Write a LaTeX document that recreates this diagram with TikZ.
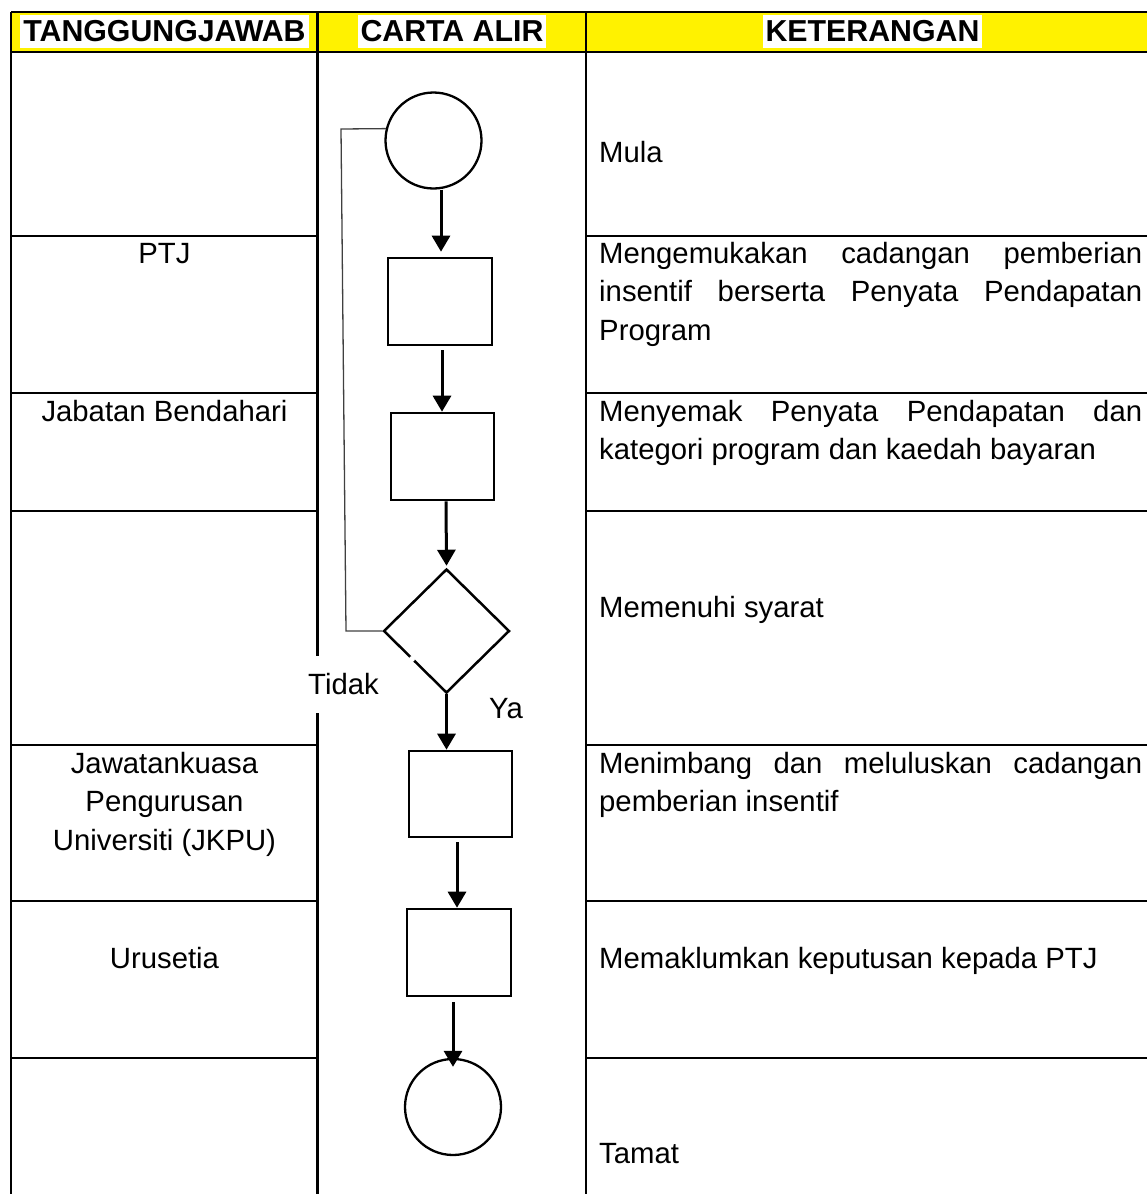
\documentclass[tikz,border=0pt]{standalone}
\usepackage{fontspec}
\setmainfont{Liberation Sans}
\usetikzlibrary{shapes.geometric,arrows.meta}
\begin{document}
\begin{tikzpicture}[x=1pt,y=-1pt,
  every node/.style={font=\fontsize{29.3}{38.5}\selectfont, inner sep=0pt},
  tline/.style={line width=2.4pt, black},
  box/.style={draw, line width=2.6pt, minimum width=104pt, minimum height=87pt, inner sep=0pt},
  term/.style={draw, circle, line width=2.3pt, minimum size=96pt, inner sep=0pt},
  dec/.style={draw, diamond, line width=2.5pt, minimum width=126pt, minimum height=124pt, inner sep=0pt},
  arr/.style={line width=3pt, -{Triangle[width=18pt,length=16pt]}},
  fb/.style={line width=1.3pt, black!75},
  lbl/.style={anchor=base, inner sep=0pt},
  rtxt/.style={anchor=base west, inner sep=0pt},
  hdr/.style={anchor=base, fill=white, inner xsep=3pt, inner ysep=0pt, text height=26pt, text depth=7pt, font=\fontsize{30.3}{38.5}\selectfont\bfseries}
]
\useasboundingbox (0,0) rectangle (1147,1194);

% header shading
\fill[yellow] (11,12) rectangle (1147,52);

% table lines
\draw[tline] (11,12) -- (1147,12);
\draw[tline] (11,52) -- (1147,52);
\draw[tline] (11,12) -- (11,1194);
\draw[tline] (317.5,12) -- (317.5,1194);
\draw[tline] (586,12) -- (586,1194);
\foreach \yy in {236,393,511,745,901,1058}{
  \draw[tline] (11,\yy) -- (317.5,\yy);
  \draw[tline] (586,\yy) -- (1147,\yy);
}

% headers
\node[hdr] (h1) at (164.5,41) {TANGGUNGJAWAB};
\node[hdr] (h2) at (452,41) {CARTA ALIR};
\node[hdr] (h3) at (872.5,41) {KETERANGAN};

% left column
\node[lbl] (r1) at (164.5,263) {PTJ};
\node[lbl] (r2) at (164.5,421) {Jabatan Bendahari};
\node[lbl] (r3) at (164.5,773) {\parbox[t]{300pt}{\centering Jawatankuasa\\Pengurusan\\Universiti (JKPU)}};
\node[lbl] (r4) at (164.5,968) {Urusetia};

% right column
\node[rtxt] (k1) at (599,162) {Mula};
\node[rtxt] (k2) at (599,263) {\parbox[t]{543pt}{\makebox[543pt][s]{Mengemukakan cadangan pemberian}\\\makebox[543pt][s]{insentif berserta Penyata Pendapatan}\\Program}};
\node[rtxt] (k3) at (599,421) {\parbox[t]{543pt}{\makebox[543pt][s]{Menyemak Penyata Pendapatan dan}\\kategori program dan kaedah bayaran}};
\node[rtxt] (k4) at (599,617) {Memenuhi syarat};
\node[rtxt] (k5) at (599,773) {\parbox[t]{543pt}{\makebox[543pt][s]{Menimbang dan meluluskan cadangan}\\pemberian insentif}};
\node[rtxt] (k6) at (599,968) {Memaklumkan keputusan kepada PTJ};
\node[rtxt] (k7) at (599,1163) {Tamat};

% flowchart shapes
\node[term] (start) at (433.5,140.5) {};
\node[box] (p1) at (440,301.5) {};
\node[box, minimum width=103pt] (p2) at (442.5,456.5) {};
\node[dec] (d) at (446.5,631) {};
\node[box, minimum width=103pt, minimum height=86pt] (p3) at (460.5,794) {};
\node[box] (p4) at (459,952.5) {};
\node[term] (end) at (453,1107) {};

% small break in the diamond edge
\fill[white] (412,659) circle (3pt);

% connectors
\draw[arr] ([xshift=7.5pt]start.south) -- ([xshift=1pt,yshift=5pt]p1.north);
\draw[arr] ([xshift=2pt,yshift=-4pt]p1.south) -- ([xshift=-0.5pt]p2.north);
\draw[arr] ([xshift=3.5pt]p2.south) -- ([yshift=2pt]d.north);
\draw[arr] (d.south) -- (d.south |- p3.north);
\draw[arr] ([xshift=-3.5pt,yshift=-4pt]p3.south) -- ([xshift=-2pt]p4.north);
\draw[arr] ([xshift=-6pt,yshift=-5pt]p4.south) -- ([yshift=-9pt]end.north);

% feedback (Tidak) line
\coordinate (fbbot) at (346,631);
\coordinate (fbtop) at (341,129);
\draw[fb] (d.west) -- (fbbot) -- (fbtop) -- (start.166);

% labels
\node[rtxt, fill=white, inner xsep=2pt, inner ysep=0pt, text height=38pt, text depth=19pt] (tidak) at (306,694) {Tidak};
\node[rtxt] (ya) at (489,718) {Ya};
\end{tikzpicture}
\end{document}
